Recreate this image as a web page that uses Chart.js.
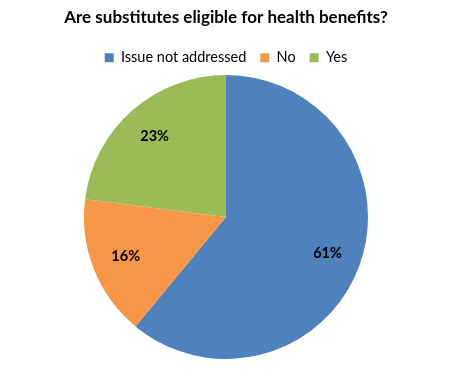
<!DOCTYPE html>
<html>
<head>
<meta charset="utf-8">
<script src="https://cdn.jsdelivr.net/npm/chart.js@4.4.0/dist/chart.umd.min.js"></script>
<style>
  html, body { margin: 0; padding: 0; background: #fff; }
  #wrap { width: 458px; height: 380px; }
</style>
</head>
<body>
<div id="wrap"><canvas id="myChart" width="458" height="380"></canvas></div>
<script>
// chart data
var answerNames = ["Issue not addressed", "No", "Yes"];
var answerPercents = [61, 16, 23];
var sliceColors = ["#4F81BD", "#F79646", "#9BBB59"];

// percent labels inside each slice
var sliceLabels = {
    id: "sliceLabels",
    afterDatasetsDraw: function (chart) {
        var ctx = chart.ctx;
        var meta = chart.getDatasetMeta(0);
        ctx.save();
        ctx.font = "bold 14.5px Lato, 'Open Sans', sans-serif";
        ctx.fillStyle = "#000";
        ctx.textAlign = "center";
        ctx.textBaseline = "middle";
        meta.data.forEach(function (arc, i) {
            var mid = (arc.startAngle + arc.endAngle) / 2;
            var r = arc.outerRadius * 0.76;
            var x = arc.x + Math.cos(mid) * r;
            var y = arc.y + Math.sin(mid) * r;
            ctx.fillText(answerPercents[i] + "%", x, y);
        });
        ctx.restore();
    }
};

// shrink the legend box a bit so the pie sits right under it
var legendHeight = {
    id: "legendHeight",
    beforeInit: function (chart) {
        var origFit = chart.legend.fit;
        chart.legend.fit = function () {
            origFit.bind(chart.legend)();
            this.height = 38.6;
        };
    }
};

var ctx = document.getElementById("myChart");
var myChart = new Chart(ctx, {
    type: "pie",
    data: {
        labels: answerNames,
        datasets: [{
            data: answerPercents,
            backgroundColor: sliceColors,
            borderWidth: 0
        }]
    },
    options: {
        responsive: false,
        animation: false,
        layout: {
            padding: { top: 0, bottom: 21, left: 0, right: 6 }
        },
        plugins: {
            title: {
                display: true,
                text: "Are substitutes eligible for health benefits?",
                color: "#000",
                font: { family: "Lato, 'Open Sans', sans-serif", size: 17, weight: "bold" },
                padding: { top: 7, bottom: 9 }
            },
            legend: {
                display: true,
                position: "top",
                labels: {
                    boxWidth: 9,
                    boxHeight: 9,
                    padding: 14,
                    color: "#000",
                    font: { family: "Lato, 'Open Sans', sans-serif", size: 14.5 }
                }
            },
            tooltip: { enabled: false }
        }
    },
    plugins: [sliceLabels, legendHeight]
});
</script>
</body>
</html>
